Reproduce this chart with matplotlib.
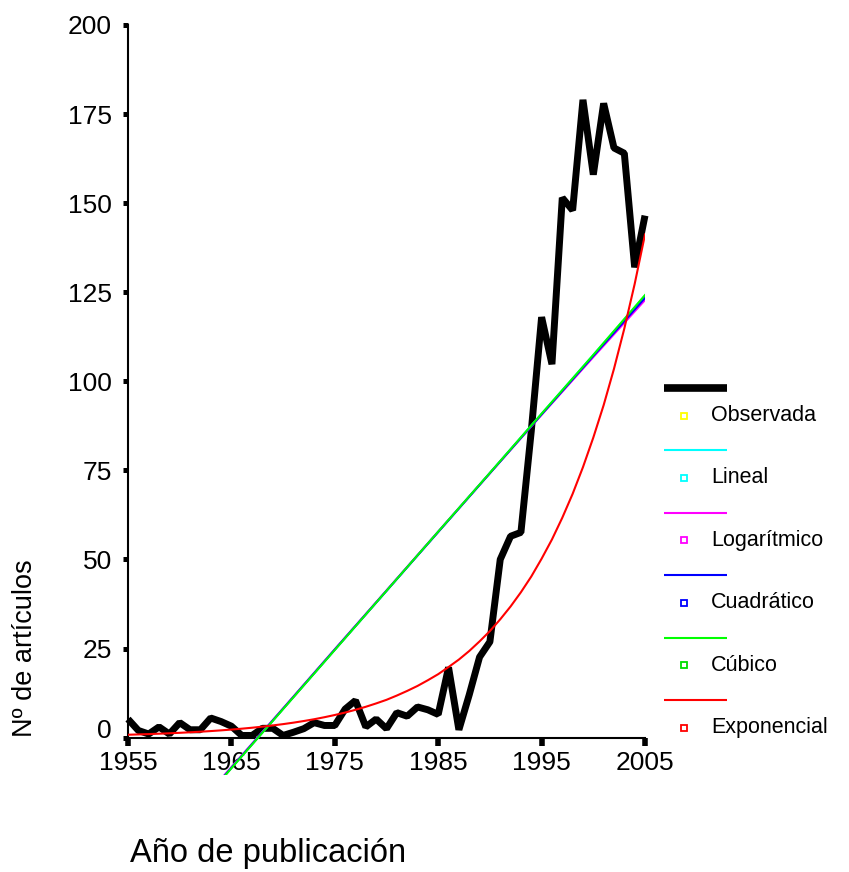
import matplotlib.pyplot as plt
from matplotlib.lines import Line2D

plt.rcParams['font.family'] = ['Liberation Sans', 'DejaVu Sans']

# Observed number of articles per year
years = list(range(1955, 2006))
observada = [5.2, 2.0, 1.0, 3.0, 1.0, 4.2, 2.2, 2.2, 5.5, 4.5,
             3.2, 0.6, 0.6, 2.6, 2.6, 0.6, 1.5, 2.5, 4.2, 3.4,
             3.4, 8.0, 10.4, 3.0, 5.2, 2.5, 7.0, 6.0, 8.6, 7.8,
             6.5, 19.7, 2.2, 12.0, 22.6, 26.9, 50.0, 56.5, 57.6, 86.0,
             118.0, 104.8, 151.5, 148.0, 179.0, 158.0, 178.0, 165.5, 164.0, 132.0,
             146.5]

# Fitted curves (read at 5-year steps)
fit_years = [1960, 1965, 1970, 1975, 1980, 1985, 1990, 1995, 2000, 2005]
lineal = [-25.0, -8.4, 8.1, 24.7, 41.2, 57.8, 74.3, 90.9, 107.4, 124.0]
logaritmico = [-24.8, -8.3, 8.2, 24.8, 41.3, 57.8, 74.2, 90.6, 106.8, 122.8]
cuadratico = [-25.2, -8.5, 8.1, 24.7, 41.2, 57.7, 74.2, 90.7, 107.1, 123.4]
cubico = [-25.5, -8.6, 8.0, 24.6, 41.2, 57.8, 74.3, 90.9, 107.4, 124.2]

# Exponential fit, one value per year
exponencial = [0.80, 0.89, 0.98, 1.09, 1.21, 1.34, 1.49, 1.65, 1.83, 2.03,
               2.25, 2.50, 2.77, 3.07, 3.41, 3.78, 4.19, 4.65, 5.15, 5.72,
               6.34, 7.03, 7.80, 8.65, 9.59, 10.6, 11.8, 13.1, 14.5, 16.1,
               17.8, 19.8, 21.9, 24.3, 27.0, 29.9, 33.2, 36.8, 40.8, 45.2,
               50.2, 55.6, 61.7, 68.4, 75.9, 84.2, 93.3, 103.5, 114.8, 127.3,
               141.2]

legend_labels = ['Observada', 'Lineal', 'Logarítmico', 'Cuadrático', 'Cúbico', 'Exponencial']
line_colors = ['black', 'cyan', 'magenta', 'blue', '#00ff00', 'red']
marker_colors = ['yellow', 'cyan', 'magenta', 'blue', '#00dd00', 'red']

W, H = 849, 872
fig = plt.figure(figsize=(W / 100, H / 100), dpi=100)
ax = fig.add_axes([128 / W, 1 - 775 / H, 517 / W, 750 / H])

ax.plot(years, observada, color='black', lw=5, solid_joinstyle='bevel',
        solid_capstyle='butt', clip_on=False, zorder=2)
ax.plot(fit_years, lineal, color='cyan', lw=1.5, zorder=3)
ax.plot(fit_years, logaritmico, color='magenta', lw=1.5, zorder=3)
ax.plot(fit_years, cuadratico, color='blue', lw=1.5, zorder=3)
ax.plot(fit_years, cubico, color='#00ff00', lw=1.5, zorder=3)
ax.plot(years, exponencial, color='red', lw=1.5, zorder=3)

ax.set_xlim(1955, 2005)
ax.set_ylim(-10.5, 200)

for s in ['top', 'right']:
    ax.spines[s].set_visible(False)
ax.spines['bottom'].set_position(('data', 0))
ax.spines['bottom'].set_bounds(1955, 2005)
ax.spines['left'].set_bounds(0, 200)
ax.spines['bottom'].set_linewidth(1.5)
ax.spines['left'].set_linewidth(1.5)

ax.set_xticks([1955, 1965, 1975, 1985, 1995, 2005])
ax.set_yticks(range(0, 201, 25))
ax.tick_params(axis='x', direction='out', length=5.5, width=4, pad=4, labelsize=19)
ax.tick_params(axis='y', direction='out', length=3.6, width=3.6, pad=8, labelsize=19)
ax.yaxis.get_major_ticks()[0].label1.set_va('baseline')

ax.set_xlabel('Año de publicación', fontsize=23.5, va='center', ha='left')
ax.xaxis.set_label_coords(0.004, -0.104)
ax.set_ylabel('Nº de artículos', fontsize=19.5, va='center')
ax.yaxis.set_label_coords(-0.199, 0.169)

# legend: line sample on one row, square marker with label on the next
for i, (lab, lc, mc) in enumerate(zip(legend_labels, line_colors, marker_colors)):
    y_line = 1 - (388 + 62.4 * i) / H
    y_lab = y_line - 27.5 / H
    fig.add_artist(Line2D([664 / W, 727 / W], [y_line, y_line], color=lc,
                          lw=5.5 if i == 0 else 1.5, solid_capstyle='butt'))
    fig.add_artist(Line2D([684 / W], [y_lab], marker='s', ms=4.5, mfc='white',
                          mec=mc, mew=1.3, linestyle='none'))
    fig.text(711 / W, y_lab, lab, fontsize=15.5, va='center', ha='left')

fig.savefig('out.png', dpi=100)
